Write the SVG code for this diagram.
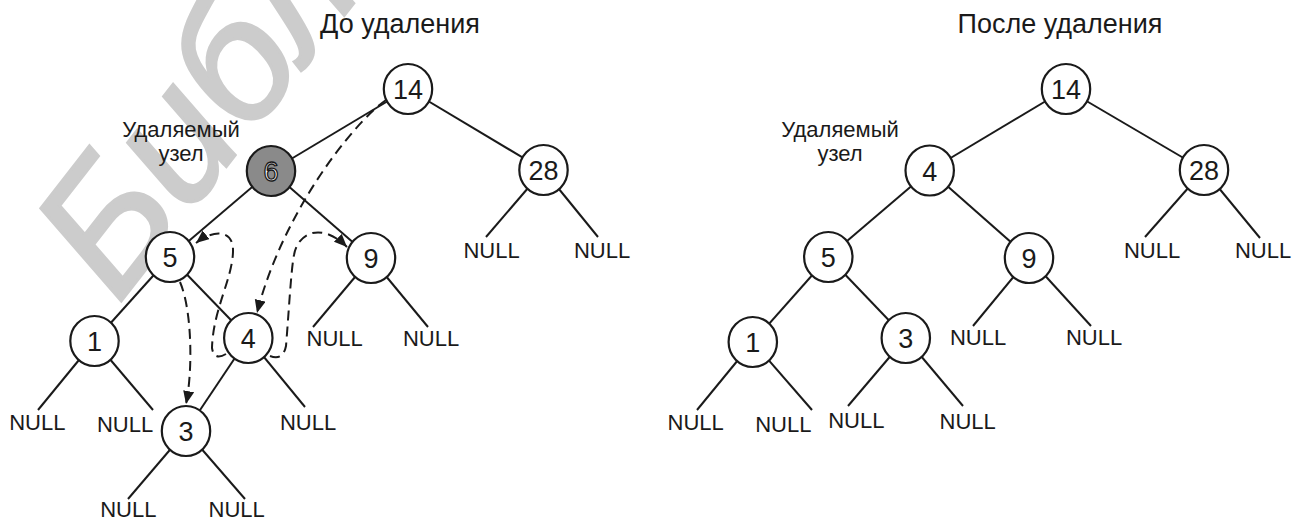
<svg xmlns="http://www.w3.org/2000/svg" width="1305" height="522" viewBox="0 0 1305 522">
<defs>
<style>
text{font-family:"Liberation Sans",Arial,sans-serif;fill:#1a1a1a}
.t{font-size:27px;text-anchor:middle}
.lbl{font-size:22px;text-anchor:middle}
.nul{font-size:22px;text-anchor:middle}
.num{font-size:27px;text-anchor:middle}
.c{fill:#fff;stroke:#1a1a1a;stroke-width:2.2}
.g{fill:#8a8a8a;stroke:#1a1a1a;stroke-width:2.2}
.w{fill:#fff;stroke:#1a1a1a;stroke-width:1.3}
.e{stroke:#1a1a1a;stroke-width:2;fill:none}
.d{stroke:#1a1a1a;stroke-width:2;fill:none;stroke-dasharray:10 6;marker-end:url(#ah)}
.wm{font-size:175px;font-style:italic;fill:#cccccc;stroke:#cccccc;stroke-width:3}
</style>
<marker id="ah" markerUnits="userSpaceOnUse" markerWidth="14" markerHeight="12" refX="13" refY="5.5" orient="auto"><path d="M0,0 L13,5.5 L0,11 z" fill="#1a1a1a"/></marker>
</defs>
<rect width="1305" height="522" fill="#fff"/>
<text class="wm" transform="translate(118,305) rotate(-52)">Библ</text>

<g id="titles">
<text class="t" x="400" y="33">До удаления</text>
<text class="t" x="1060" y="33">После удаления</text>
</g>
<g id="label-left">
<text class="lbl" x="181" y="137">Удаляемый</text>
<text class="lbl" x="181" y="161">узел</text>
</g>
<g id="label-right">
<text class="lbl" x="840" y="137">Удаляемый</text>
<text class="lbl" x="840" y="161">узел</text>
</g>

<g id="connectors">
<line class="e" x1="408" y1="89" x2="271" y2="171"/>
<line class="e" x1="408" y1="89" x2="543.5" y2="170"/>
<line class="e" x1="543.5" y1="170" x2="486" y2="237"/>
<line class="e" x1="543.5" y1="170" x2="598" y2="237"/>
<line class="e" x1="271" y1="171" x2="170" y2="257"/>
<line class="e" x1="271" y1="171" x2="371" y2="258"/>
<line class="e" x1="371" y1="258" x2="313" y2="327"/>
<line class="e" x1="371" y1="258" x2="428" y2="327"/>
<line class="e" x1="170" y1="257" x2="94.5" y2="341"/>
<line class="e" x1="170" y1="257" x2="248.3" y2="338"/>
<line class="e" x1="94.5" y1="341" x2="38" y2="410"/>
<line class="e" x1="94.5" y1="341" x2="153" y2="410"/>
<line class="e" x1="248.3" y1="338" x2="186" y2="431"/>
<line class="e" x1="248.3" y1="338" x2="305" y2="407"/>
<line class="e" x1="186" y1="431" x2="128" y2="499"/>
<line class="e" x1="186" y1="431" x2="245" y2="499"/>
<line class="e" x1="1066" y1="89" x2="929.7" y2="170.5"/>
<line class="e" x1="1066" y1="89" x2="1204" y2="170"/>
<line class="e" x1="1204" y1="170" x2="1145" y2="237"/>
<line class="e" x1="1204" y1="170" x2="1260" y2="238"/>
<line class="e" x1="929.7" y1="170.5" x2="828.3" y2="257"/>
<line class="e" x1="929.7" y1="170.5" x2="1029" y2="258"/>
<line class="e" x1="1029" y1="258" x2="973" y2="326"/>
<line class="e" x1="1029" y1="258" x2="1091" y2="326"/>
<line class="e" x1="828.3" y1="257" x2="752.8" y2="342"/>
<line class="e" x1="828.3" y1="257" x2="905.8" y2="338"/>
<line class="e" x1="752.8" y1="342" x2="697" y2="410"/>
<line class="e" x1="752.8" y1="342" x2="812" y2="410"/>
<line class="e" x1="905.8" y1="338" x2="848" y2="406"/>
<line class="e" x1="905.8" y1="338" x2="963" y2="406"/>
</g>

<g id="node-14-left"><ellipse class="c" cx="408" cy="89" rx="24.2" ry="25"/><text class="num" x="408" y="99">14</text></g>
<g id="node-6-left"><ellipse class="g" cx="271" cy="171" rx="24.2" ry="25"/><text class="num w" x="271" y="181">6</text></g>
<g id="node-28-left"><ellipse class="c" cx="543.5" cy="170" rx="24.2" ry="25"/><text class="num" x="543.5" y="180">28</text></g>
<g id="node-5-left"><ellipse class="c" cx="170" cy="257" rx="24.2" ry="25"/><text class="num" x="170" y="267">5</text></g>
<g id="node-9-left"><ellipse class="c" cx="371" cy="258" rx="24.2" ry="25"/><text class="num" x="371" y="268">9</text></g>
<g id="node-1-left"><ellipse class="c" cx="94.5" cy="341" rx="24.2" ry="25"/><text class="num" x="94.5" y="351">1</text></g>
<g id="node-4-left"><ellipse class="c" cx="248.3" cy="338" rx="24.2" ry="25"/><text class="num" x="248.3" y="348">4</text></g>
<g id="node-3-left"><ellipse class="c" cx="186" cy="431" rx="24.2" ry="25"/><text class="num" x="186" y="441">3</text></g>

<g id="null-left">
<text class="nul" x="491.5" y="258">NULL</text>
<text class="nul" x="602" y="258">NULL</text>
<text class="nul" x="334.7" y="346">NULL</text>
<text class="nul" x="431" y="346">NULL</text>
<text class="nul" x="37.3" y="430">NULL</text>
<text class="nul" x="125" y="432">NULL</text>
<text class="nul" x="308" y="430">NULL</text>
<text class="nul" x="128.3" y="517">NULL</text>
<text class="nul" x="236.7" y="517">NULL</text>
</g>

<g id="dashed-moves">
<path class="d" d="M386,100 C352,124 282,214 257,313"/>
<path class="d" d="M226,354 Q214,361 212,348 C213,310 232,280 233,252 C234,228 212,230 196,243"/>
<path class="d" d="M270,356 Q283,361 286,346 C289,310 291,270 294,255 C298,232 322,222 347,247"/>
<path class="d" d="M180,282 C192,310 193,370 186,404"/>
</g>

<g id="node-14-right"><ellipse class="c" cx="1066" cy="89" rx="24.2" ry="25"/><text class="num" x="1066" y="99">14</text></g>
<g id="node-4-right"><ellipse class="c" cx="929.7" cy="170.5" rx="24.2" ry="25"/><text class="num" x="929.7" y="180.5">4</text></g>
<g id="node-28-right"><ellipse class="c" cx="1204" cy="170" rx="24.2" ry="25"/><text class="num" x="1204" y="180">28</text></g>
<g id="node-5-right"><ellipse class="c" cx="828.3" cy="257" rx="24.2" ry="25"/><text class="num" x="828.3" y="267">5</text></g>
<g id="node-9-right"><ellipse class="c" cx="1029" cy="258" rx="24.2" ry="25"/><text class="num" x="1029" y="268">9</text></g>
<g id="node-1-right"><ellipse class="c" cx="752.8" cy="342" rx="24.2" ry="25"/><text class="num" x="752.8" y="352">1</text></g>
<g id="node-3-right"><ellipse class="c" cx="905.8" cy="338" rx="24.2" ry="25"/><text class="num" x="905.8" y="348">3</text></g>

<g id="null-right">
<text class="nul" x="1152" y="258">NULL</text>
<text class="nul" x="1263" y="258">NULL</text>
<text class="nul" x="978" y="345">NULL</text>
<text class="nul" x="1094" y="345">NULL</text>
<text class="nul" x="695.7" y="430">NULL</text>
<text class="nul" x="783.3" y="432">NULL</text>
<text class="nul" x="856.3" y="428">NULL</text>
<text class="nul" x="967.7" y="429">NULL</text>
</g>
</svg>
